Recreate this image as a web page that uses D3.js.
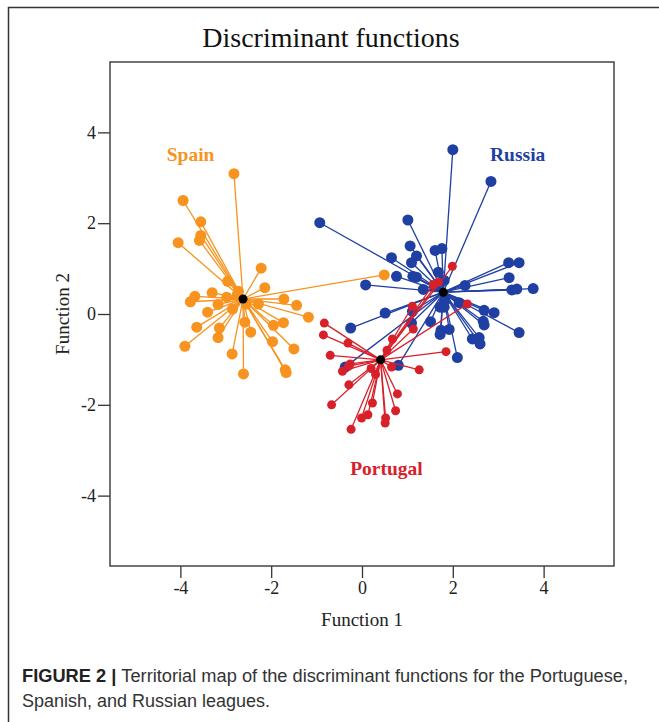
<!DOCTYPE html>
<html>
<head>
<meta charset="utf-8">
<script src="https://cdn.jsdelivr.net/npm/d3@7"></script>
<style>
  body { margin: 0; background: #fff; }
  svg { display: block; }
  .serif { font-family: "Liberation Serif", "Times New Roman", serif; }
</style>
</head>
<body>
<div class="container"></div>
<script>
const WIDTH = 659;
const HEIGHT = 722;
const BOX = {left: 110, top: 62, right: 614, bottom: 566};

// discriminant scores: [function 1, function 2]
const spainPoints = [
  [-2.82, 3.09], [-3.94, 2.50], [-3.55, 2.03], [-3.55, 1.73], [-3.58, 1.62],
  [-4.05, 1.57], [-2.22, 1.01], [-2.96, 0.72], [-2.14, 0.58], [-2.72, 0.50],
  [-3.30, 0.47], [-3.68, 0.39], [-3.78, 0.27], [-2.98, 0.37], [-3.17, 0.21],
  [-2.85, 0.11], [-3.40, 0.04], [-2.28, 0.22], [-1.72, 0.33], [-1.44, 0.19],
  [-1.18, -0.07], [-2.58, -0.18], [-1.95, -0.25], [-1.73, -0.19], [-3.64, -0.29],
  [-3.14, -0.31], [-2.45, -0.40], [-3.17, -0.52], [-1.97, -0.61], [-3.90, -0.71],
  [-1.50, -0.77], [-2.86, -0.88], [-1.69, -1.23], [-1.67, -1.29], [-2.61, -1.32],
  [0.49, 0.86], [-2.55, 0.22], [-2.75, 0.42]
];
const russiaPoints = [
  [2.00, 3.62], [2.84, 2.92], [1.01, 2.07], [1.06, 1.50], [0.65, 1.24],
  [1.20, 1.28], [1.09, 1.13], [1.61, 1.40], [1.76, 1.44], [0.76, 0.83],
  [1.12, 0.83], [1.20, 0.81], [1.68, 0.92], [1.35, 0.54], [1.81, 0.74],
  [3.23, 1.13], [3.46, 1.13], [3.24, 0.80], [2.27, 0.63], [3.30, 0.53],
  [3.41, 0.55], [3.77, 0.56], [2.14, 0.25], [1.72, 0.15], [1.81, 0.15],
  [2.69, 0.08], [2.91, 0.03], [0.51, 0.02], [1.11, 0.06], [1.09, -0.20],
  [1.51, -0.17], [2.67, -0.16], [2.69, -0.24], [1.74, -0.36], [1.92, -0.34],
  [1.72, -0.45], [3.46, -0.41], [2.43, -0.55], [2.58, -0.52], [2.60, -0.66],
  [2.10, -0.96], [0.80, -1.13], [-0.93, 2.01], [-0.25, -0.31], [0.08, 0.64],
  [-0.37, -1.17], [1.83, 0.30], [1.60, 0.60]
];
const portugalPoints = [
  [1.99, 1.05], [1.57, 0.65], [1.68, 0.70], [2.32, 0.22], [1.11, 0.17],
  [1.13, -0.33], [0.67, -0.55], [-0.83, -0.20], [-0.85, -0.46], [-0.31, -0.64],
  [-0.70, -0.91], [1.85, -0.83], [-0.26, -1.10], [-0.30, -1.15], [-0.43, -1.26],
  [1.26, -1.23], [0.65, -1.17], [0.30, -1.33], [-0.29, -1.56], [0.78, -1.76],
  [0.23, -1.96], [-0.67, -2.00], [0.74, -2.13], [0.13, -2.22], [-0.01, -2.29],
  [0.52, -2.29], [0.51, -2.40], [-0.24, -2.54], [0.20, -1.20], [0.55, -0.80]
];
const centroids = {Spain: [-2.62, 0.33], Russia: [1.79, 0.48], Portugal: [0.41, -1.01]};
const groupNames = ["Russia", "Portugal", "Spain"];
const groupColors = {Spain: "#f7931e", Russia: "#1f3fa3", Portugal: "#d7202a"};
const groupLabelPos = {Spain: [-4.30, 3.36], Russia: [2.82, 3.36], Portugal: [-0.26, -3.54]};
const xTicks = [-4, -2, 0, 2, 4];
const yTicks = [-4, -2, 0, 2, 4];

var groups = {Spain: spainPoints, Russia: russiaPoints, Portugal: portugalPoints};
var radius = {Spain: 5.5, Russia: 5.5, Portugal: 4.5};

var translate = function(x, y){
  return "translate(" + x + "," + y + ")";
};

var svg = d3.select('.container').append('svg')
  .attr('width', WIDTH)
  .attr('height', HEIGHT);

// outer figure frame (only left and top show)
svg.append('path')
  .attr('d', "M8.5," + HEIGHT + " V7.5 H" + WIDTH)
  .attr('fill', 'none')
  .attr('stroke', '#333')
  .attr('stroke-width', 1.5);

var xScale = d3.scaleLinear().domain([-5.55, 5.55]).range([BOX.left, BOX.right]);
var yScale = d3.scaleLinear().domain([-5.55, 5.55]).range([BOX.bottom, BOX.top]);

svg.append('text')
  .attr('class', 'serif')
  .attr('x', 331).attr('y', 47)
  .attr('text-anchor', 'middle')
  .attr('font-size', 28)
  .attr('fill', '#111')
  .text('Discriminant functions');

var xAxis = d3.axisBottom(xScale).tickValues(xTicks).tickSize(12).tickPadding(3)
  .tickFormat(d3.format('d'));
var yAxis = d3.axisLeft(yScale).tickValues(yTicks).tickSize(12).tickPadding(2)
  .tickFormat(d3.format('d'));

var gx = svg.append('g').attr('transform', translate(0, BOX.bottom)).call(xAxis);
var gy = svg.append('g').attr('transform', translate(BOX.left, 0)).call(yAxis);
[gx, gy].forEach(function(g){
  g.select('.domain').remove();
  g.selectAll('line').attr('stroke', '#333').attr('stroke-width', 1.3);
  g.selectAll('text')
    .attr('class', 'serif')
    .attr('font-size', 18)
    .attr('fill', '#222')
    .text(function(d){ return d < 0 ? '-' + Math.abs(d) : d; });
});

svg.append('rect')
  .attr('x', BOX.left).attr('y', BOX.top)
  .attr('width', BOX.right - BOX.left).attr('height', BOX.bottom - BOX.top)
  .attr('fill', 'none')
  .attr('stroke', '#444')
  .attr('stroke-width', 1.5);

svg.append('text')
  .attr('class', 'serif')
  .attr('x', xScale(0)).attr('y', 626)
  .attr('text-anchor', 'middle')
  .attr('font-size', 19)
  .attr('fill', '#222')
  .text('Function 1');

svg.append('text')
  .attr('class', 'serif')
  .attr('transform', translate(69, yScale(0)) + ' rotate(-90)')
  .attr('text-anchor', 'middle')
  .attr('font-size', 19)
  .attr('fill', '#222')
  .text('Function 2');

// territorial "stars": line from each case to its group centroid
var plot = svg.append('g');
groupNames.forEach(function(name){
  var c = centroids[name];
  var g = plot.append('g').attr('class', 'group-' + name);
  g.selectAll('line').data(groups[name]).enter().append('line')
    .attr('x1', xScale(c[0])).attr('y1', yScale(c[1]))
    .attr('x2', function(d){ return xScale(d[0]); })
    .attr('y2', function(d){ return yScale(d[1]); })
    .attr('stroke', groupColors[name])
    .attr('stroke-width', 1.3);
  g.selectAll('circle').data(groups[name]).enter().append('circle')
    .attr('cx', function(d){ return xScale(d[0]); })
    .attr('cy', function(d){ return yScale(d[1]); })
    .attr('r', radius[name])
    .attr('fill', groupColors[name]);
});

groupNames.forEach(function(name){
  var c = centroids[name];
  plot.append('circle')
    .attr('cx', xScale(c[0])).attr('cy', yScale(c[1]))
    .attr('r', 4.5)
    .attr('fill', '#000');
  var p = groupLabelPos[name];
  svg.append('text')
    .attr('class', 'serif')
    .attr('x', xScale(p[0])).attr('y', yScale(p[1]))
    .attr('font-size', 19.5)
    .attr('font-weight', 'bold')
    .attr('fill', groupColors[name])
    .text(name);
});

// caption
var cap = svg.append('g')
  .attr('font-family', '"Liberation Sans", Arial, sans-serif')
  .attr('font-size', 17.5)
  .attr('fill', '#333');
var line1 = cap.append('text').attr('x', 22).attr('y', 682)
  .attr('textLength', 606).attr('lengthAdjust', 'spacingAndGlyphs');
line1.append('tspan').attr('font-weight', 'bold').attr('fill', '#222').text('FIGURE 2 | ');
line1.append('tspan').text('Territorial map of the discriminant functions for the Portuguese,');
cap.append('text').attr('x', 22).attr('y', 707)
  .attr('textLength', 248).attr('lengthAdjust', 'spacingAndGlyphs')
  .text('Spanish, and Russian leagues.');
</script>
</body>
</html>
